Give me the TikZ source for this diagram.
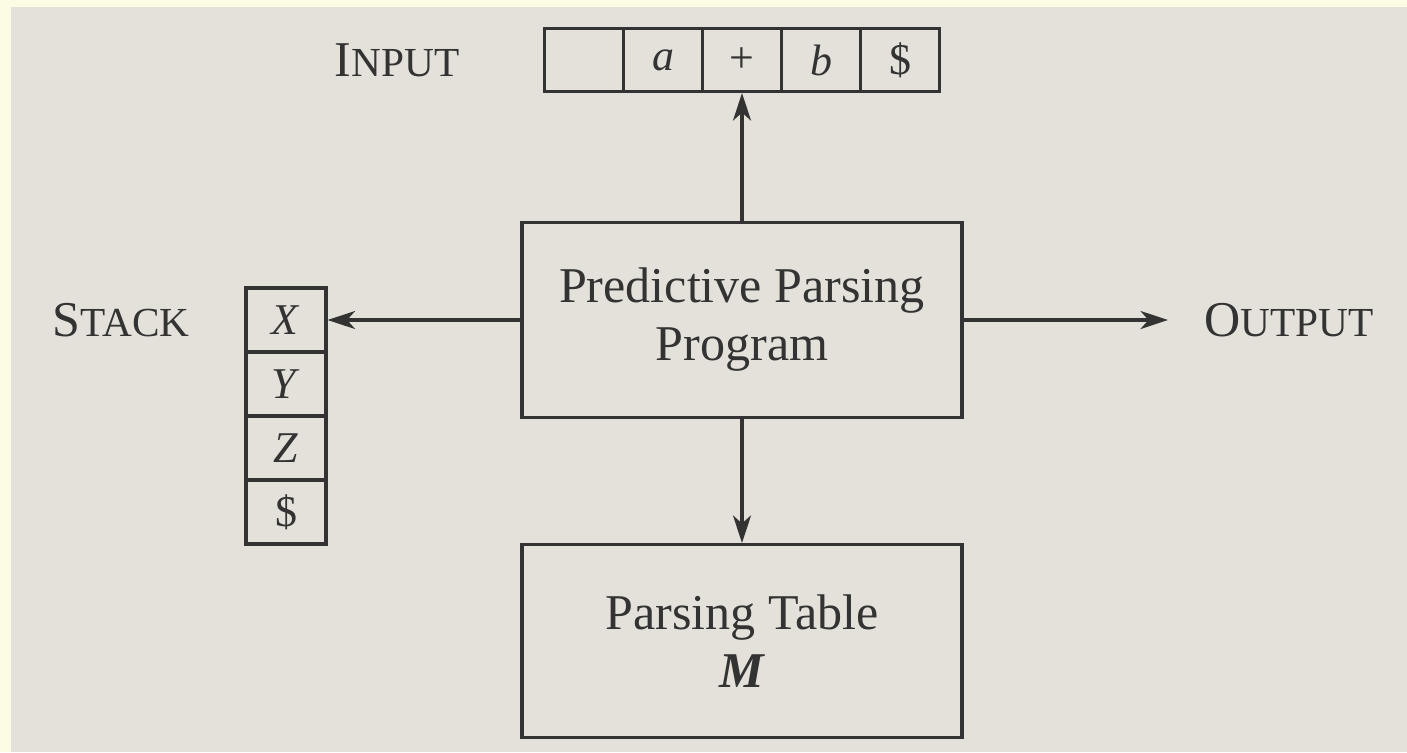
\documentclass[tikz,border=0pt]{standalone}
\usepackage{fontspec}
\setmainfont{Liberation Serif}
\usetikzlibrary{arrows.meta,positioning}

\definecolor{paper}{HTML}{E4E1DA}
\definecolor{margin}{HTML}{FCFCE4}
\definecolor{ink}{HTML}{333333}
% small capitals made by hand (the font has none)
\newcommand{\fakesc}[2]{#1{\fontsize{23.5}{27}\selectfont #2}}

\begin{document}
\begin{tikzpicture}[x=0.02cm, y=-0.02cm,
  >={Stealth[length=0.55cm, width=0.36cm, inset=0.16cm]},
  every node/.style={font=\fontsize{28.5}{33}\selectfont, text=ink},
  cell/.style={draw=ink, line width=1.8pt, minimum width=1.58cm, minimum height=1.26cm,
    inner sep=0pt, font=\fontsize{25}{28}\selectfont},
  slot/.style={draw=ink, line width=1.8pt, minimum width=1.6cm, minimum height=1.28cm,
    inner sep=0pt, font=\fontsize{25}{28}\selectfont},
  box/.style={draw=ink, line width=1.8pt, minimum width=8.8cm, align=center, inner sep=0pt},
  link/.style={->, draw=ink, line width=1.8pt}]

  % Page
  \fill[margin] (0,0) rectangle (1407,752);
  \fill[paper] (11,7) rectangle (1407,752);
  \useasboundingbox (0,0) rectangle (1407,752);

  % Input tape
  \node (inlabel) at (397,60) {\fakesc{I}{NPUT}};
  \node[cell] (in1) at (584,60) {};
  \node[cell] (in2) at (663,60) {\textit{a}};
  \node[cell] (in3) at (742,60) {+};
  \node[cell] (in4) at (821,60) {\textit{b}};
  \node[cell] (in5) at (900,60) {\$};

  % Stack
  \node (stacklabel) at (121,320) {\fakesc{S}{TACK}};
  \node[slot] (sx) at (286,320) {\textit{X}};
  \node[slot] (sy) at (286,384) {\textit{Y}};
  \node[slot] (sz) at (286,448) {\textit{Z}};
  \node[slot] (sd) at (286,512) {\$};

  % Program and table
  \node[box, minimum height=3.9cm] (prog) at (742,320) {Predictive Parsing\\Program};
  \node[box, minimum height=3.86cm] (table) at (742,641) {Parsing Table\\\textbf{\textit{M}}};

  % Output
  \coordinate (outend) at (1168,320);
  \node[anchor=west] (outlabel) at (1198,320) {\fakesc{O}{UTPUT}};

  % Arrows
  \draw[link] (prog) -- (in3);
  \draw[link] (prog) -- (sx);
  \draw[link] (prog.east) -- (outend);
  \draw[link] (prog) -- (table);
\end{tikzpicture}
\end{document}
